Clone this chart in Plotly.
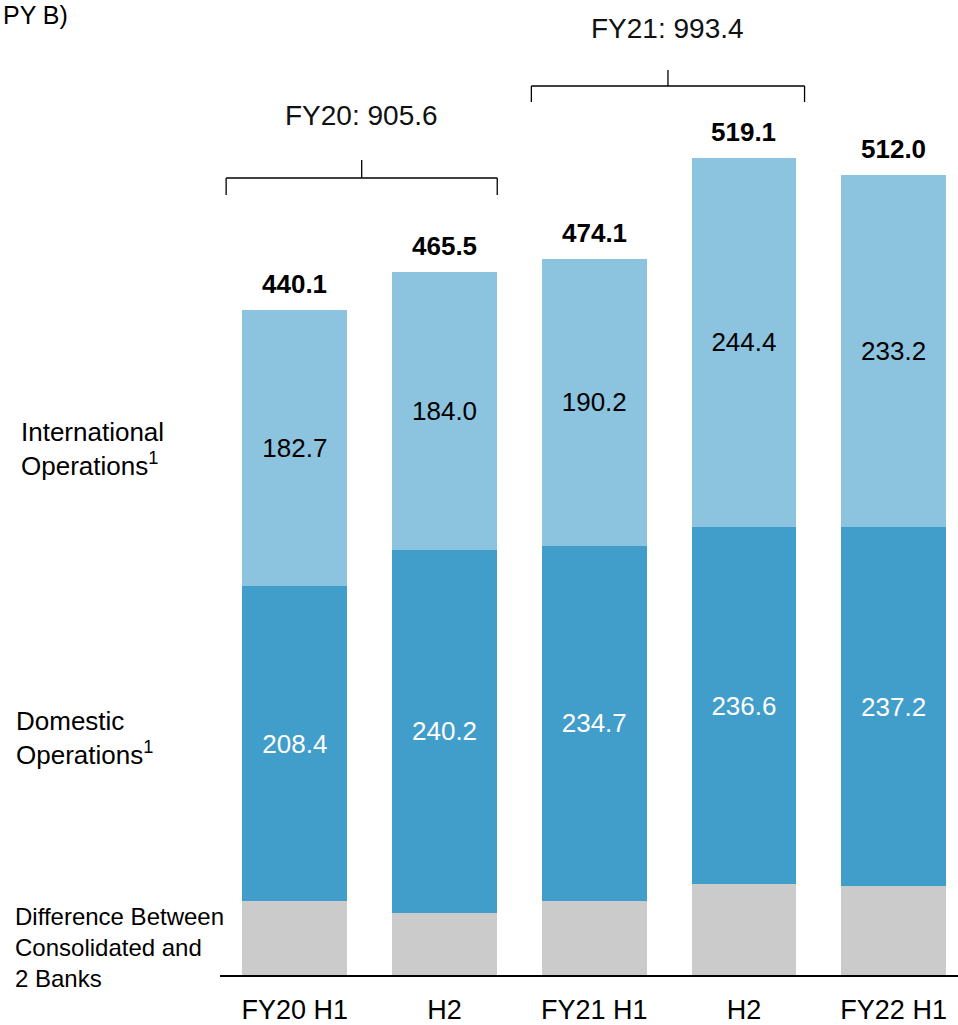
import plotly.graph_objects as go

# ---- data ----
periods = ["FY20 H1", "H2", "FY21 H1", "H2", "FY22 H1"]
international = [182.7, 184.0, 190.2, 244.4, 233.2]
domestic = [208.4, 240.2, 234.7, 236.6, 237.2]
difference = [49.0, 41.3, 49.2, 60.0, 59.0]
totals = ["440.1", "465.5", "474.1", "519.1", "512.0"]
fy_groups = [("FY20: 905.6", 0, 1), ("FY21: 993.4", 2, 3)]
series_labels = ["International<br>Operations<sup>1</sup>",
                 "Domestic<br>Operations<sup>1</sup>",
                 "Difference Between<br>Consolidated and<br>2 Banks"]

W, H = 958, 1025
FONT = "Liberation Sans, Arial, sans-serif"
C_LIGHT = "#8CC3DE"
C_MID = "#419DC9"
C_GREY = "#CBCBCB"

PLOT_BOTTOM = 975          # pixel of baseline
YMAX = 645.3               # y value at top pixel 0
X_LEFT_PX = 220

x = list(range(len(periods)))


def py(pix):
    """pixel y -> data y"""
    return (PLOT_BOTTOM - pix) / PLOT_BOTTOM * YMAX


fig = go.Figure()
fig.add_trace(go.Bar(x=x, y=difference, marker_color=C_GREY, width=0.70,
                     marker_line_width=0, hoverinfo="skip"))
fig.add_trace(go.Bar(x=x, y=domestic, marker_color=C_MID, width=0.70,
                     marker_line_width=0, text=[f"{v:.1f}" for v in domestic],
                     textposition="inside", insidetextanchor="middle", textangle=0,
                     insidetextfont=dict(family=FONT, size=26, color="white")))
fig.add_trace(go.Bar(x=x, y=international, marker_color=C_LIGHT, width=0.70,
                     marker_line_width=0, text=[f"{v:.1f}" for v in international],
                     textposition="inside", insidetextanchor="middle", textangle=0,
                     insidetextfont=dict(family=FONT, size=26, color="black")))

# totals above bars
for i in x:
    top = difference[i] + domestic[i] + international[i]
    fig.add_annotation(x=i, y=top, text=f"<b>{totals[i]}</b>", showarrow=False,
                       yanchor="bottom", yshift=9,
                       font=dict(family=FONT, size=26, color="black"))

# FY brackets
bracket_px = {"FY20: 905.6": (178, 195, 160, 115), "FY21: 993.4": (86, 102, 70, 28)}
for label, a, b in fy_groups:
    yh, ye, yt, ytxt = bracket_px[label]
    if a == 0:
        xl, xr = a - 0.459, b + 0.352
    else:
        xl, xr = a - 0.42, b + 0.405
    xc = (xl + xr) / 2
    line = dict(color="black", width=1.3)
    fig.add_shape(type="line", x0=xl, x1=xr, y0=py(yh), y1=py(yh), line=line)
    fig.add_shape(type="line", x0=xl, x1=xl, y0=py(yh), y1=py(ye), line=line)
    fig.add_shape(type="line", x0=xr, x1=xr, y0=py(yh), y1=py(ye), line=line)
    fig.add_shape(type="line", x0=xc, x1=xc, y0=py(yh), y1=py(yt), line=line)
    fig.add_annotation(x=xc, y=py(ytxt), text=label, showarrow=False,
                       font=dict(family=FONT, size=28, color="#111111"))

# left series labels
label_pos = [(19, 449, 26), (14, 738, 26), (13, 947, 24)]
for txt, (lx, ly, fs) in zip(series_labels, label_pos):
    fig.add_annotation(xref="paper", yref="y", x=lx / W, y=py(ly), text=txt,
                       showarrow=False, xanchor="left", align="left",
                       font=dict(family=FONT, size=fs, color="black"))

# cut-off unit label at top-left
fig.add_annotation(xref="paper", yref="y", x=0, y=py(15), text="PY B)",
                   showarrow=False, xanchor="left", xshift=1,
                   font=dict(family=FONT, size=25, color="black"))

fig.update_layout(
    width=W, height=H,
    margin=dict(l=0, r=0, t=0, b=H - PLOT_BOTTOM),
    paper_bgcolor="white", plot_bgcolor="white",
    barmode="stack", showlegend=False,
    font=dict(family=FONT, color="black"),
    xaxis=dict(domain=[X_LEFT_PX / W, 1], range=[-0.5, 4.43],
               tickvals=x, ticktext=periods, showgrid=False, zeroline=False,
               showline=True, linecolor="black", linewidth=2, ticks="",
               ticklabelstandoff=10,
               tickfont=dict(family=FONT, size=27, color="black")),
    yaxis=dict(range=[0, YMAX], visible=False, showgrid=False, zeroline=False),
    uniformtext=dict(mode=False),
)

fig.write_html("out.html", config={"displayModeBar": False},
               post_script="document.body.style.margin='0';document.body.style.overflow='hidden';")
